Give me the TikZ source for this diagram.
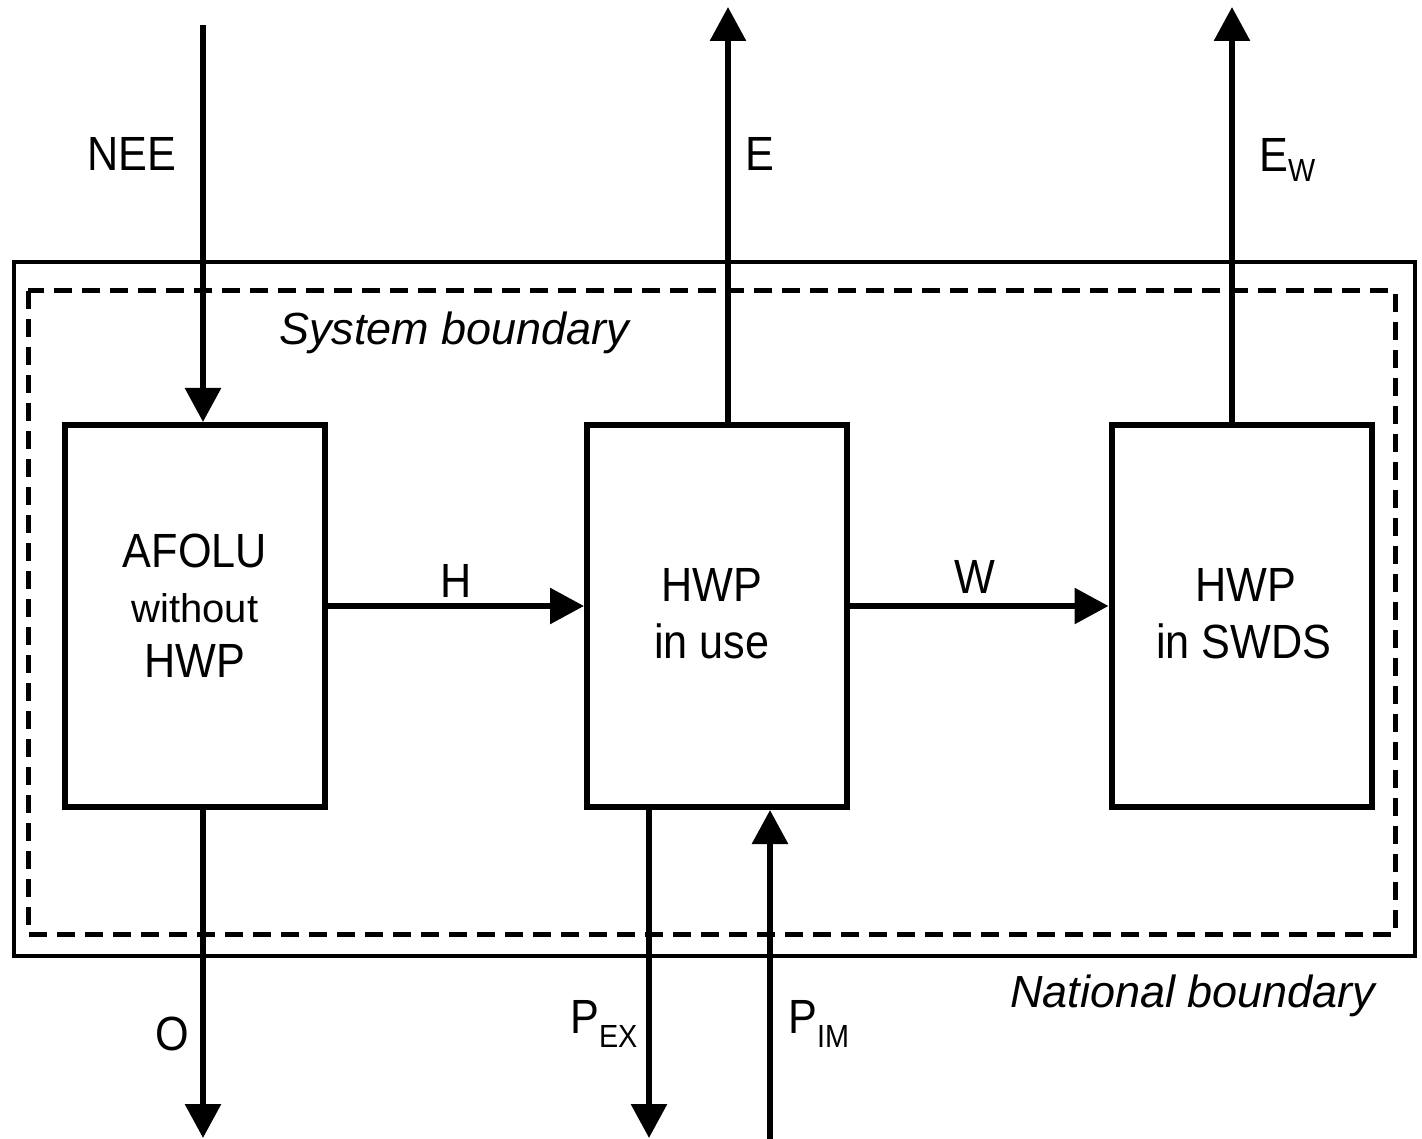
\documentclass[tikz,border=0pt]{standalone}
\usepackage{fontspec}
\setmainfont{Liberation Sans}[FakeStretch=0.9]
\newfontfamily\widefont{Liberation Sans}
\usetikzlibrary{arrows.meta}
\newcommand\subf{\fontsize{32}{32}\selectfont}
\begin{document}
\begin{tikzpicture}[x=1pt,y=1pt,
  box/.style={draw, line width=6pt, minimum width=260pt, minimum height=382pt, inner sep=0pt},
  flow/.style={line width=6pt, -{Triangle[length=34pt,width=35pt]}},
  lbl/.style={inner sep=0pt, font=\fontsize{48}{48}\selectfont},
  smalllbl/.style={inner sep=0pt, font=\widefont\fontsize{40}{40}\selectfont},
  ital/.style={inner sep=0pt, font=\widefont\itshape\fontsize{45}{45}\selectfont},
  national/.style={line width=4pt},
  system/.style={line width=5pt, dash pattern=on 18pt off 10pt}
]
\useasboundingbox (0,0) rectangle (1422,-1139);

% boundaries
\draw[national] (14,-262) rectangle (1415,-956);
\draw[system] (28,-291) rectangle (1395,-934);

% boxes
\node[box] (afolu) at (194.5,-616) {};
\node[box] (use) at (717,-616) {};
\node[box] (swds) at (1241.5,-616) {};

% box texts
\node[lbl, anchor=base] (t1a) at (195,-567) {AFOLU};
\node[smalllbl, anchor=base] (t1b) at (195,-622) {without};
\node[lbl, anchor=base] (t1c) at (195,-677) {HWP};
\node[lbl, anchor=base] (t2a) at (712,-601) {HWP};
\node[lbl, anchor=base] (t2b) at (712,-658) {in use};
\node[lbl, anchor=base] (t3a) at (1246,-601) {HWP};
\node[lbl, anchor=base] (t3b) at (1244,-658) {in SWDS};

% free ends
\coordinate (neetop) at (203,-25);
\coordinate (etop) at (728,-7);
\coordinate (ewtop) at (1232,-7);
\coordinate (obot) at (203,-1138);
\coordinate (pexbot) at (649,-1138);
\coordinate (pimbot) at (770,-1139);
\coordinate (hy) at (450,-606);

% flows
\draw[flow] (neetop) -- (neetop |- afolu.north);
\draw[flow] (etop |- use.north) -- (etop);
\draw[flow] (ewtop |- swds.north) -- (ewtop);
\draw[flow] (afolu.east |- hy) -- (use.west |- hy);
\draw[flow] (use.east |- hy) -- (swds.west |- hy);
\draw[flow] (obot |- afolu.south) -- (obot);
\draw[flow] (pexbot |- use.south) -- (pexbot);
\draw[flow] (pimbot) -- (pimbot |- use.south);

% flow labels
\node[lbl, anchor=base] (neel) at (132,-171) {NEE};
\node[lbl, anchor=base] (el) at (760,-171) {E};
\node[lbl, anchor=base west] (ewl) at (1259,-172) {E\raisebox{-10pt}{\subf W}};
\node[lbl, anchor=base] (hl) at (456,-597) {H};
\node[lbl, anchor=base] (wl) at (975,-593) {W};
\node[lbl, anchor=base] (ol) at (172,-1050) {O};
\node[lbl, anchor=base west] (pexl) at (570,-1033) {P\raisebox{-14pt}{\subf EX}};
\node[lbl, anchor=base west] (piml) at (788,-1033) {P\raisebox{-14pt}{\subf IM}};

% boundary labels
\node[ital, anchor=base west] (sysl) at (279,-345) {System boundary};
\node[ital, anchor=base west] (natl) at (1010,-1007) {National boundary};
\end{tikzpicture}
\end{document}
